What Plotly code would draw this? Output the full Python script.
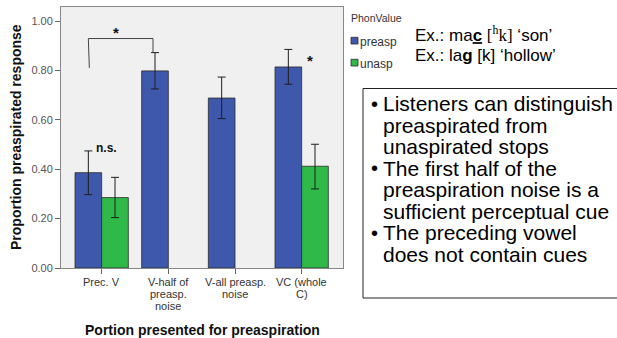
import plotly.graph_objects as go

# ---------------- data ----------------
categories = ["Prec. V", "V-half of<br>preasp.<br>noise", "V-all preasp.<br>noise", "VC (whole<br>C)"]
preasp_vals = [0.386, 0.798, 0.688, 0.814]
preasp_hi = [0.474, 0.872, 0.773, 0.885]
preasp_lo = [0.297, 0.725, 0.605, 0.744]
unasp_vals = [0.285, None, None, 0.412]
unasp_hi = [0.367, None, None, 0.501]
unasp_lo = [0.204, None, None, 0.320]
y_ticks = [0.0, 0.2, 0.4, 0.6, 0.8, 1.0]

bullets = [
    "• Listeners can distinguish",
    "preaspirated from",
    "unaspirated stops",
    "• The first half of the",
    "preaspiration noise is a",
    "sufficient perceptual cue",
    "• The preceding vowel",
    "does not contain cues",
]

# ---------------- geometry helpers (pixel -> paper) ----------------
W, H = 617, 338
L, R, T, B = 61, 274, 7, 70
PW, PH = W - L - R, H - T - B


def px_x(px):
    return (px - L) / PW


def px_y(py):
    return (H - B - py) / PH


BLUE = "#3e58ac"
GREEN = "#2eb948"
idx = list(range(len(categories)))


def err(vals, hi, lo):
    plus = [None if v is None else h - v for v, h in zip(vals, hi)]
    minus = [None if v is None else v - l for v, l in zip(vals, lo)]
    return plus, minus


pp, pm = err(preasp_vals, preasp_hi, preasp_lo)
up, um = err(unasp_vals, unasp_hi, unasp_lo)

fig = go.Figure()
fig.add_trace(go.Bar(
    x=idx, y=preasp_vals, name="preasp",
    marker=dict(color=BLUE, line=dict(color="#2b2b2b", width=0.8)),
    error_y=dict(type="data", symmetric=False, array=pp, arrayminus=pm,
                 color="#1e1e1e", thickness=1, width=4),
))
fig.add_trace(go.Bar(
    x=idx, y=unasp_vals, name="unasp",
    marker=dict(color=GREEN, line=dict(color="#2b2b2b", width=0.8)),
    error_y=dict(type="data", symmetric=False, array=up, arrayminus=um,
                 color="#1e1e1e", thickness=1, width=4),
))

ann = []
shapes = []
FONT = "Liberation Sans, Arial"

# x tick labels (multi-line, tight spacing)
for i, lab in enumerate(categories):
    for j, line in enumerate(lab.split("<br>")):
        ann.append(dict(x=i, xref="x", y=px_y(282.3 + 11.7 * j), yref="paper",
                        text=line, showarrow=False, xanchor="center", yanchor="middle",
                        font=dict(family=FONT, size=11, color="#333333")))

# axis titles
ann.append(dict(x=px_x(202), y=px_y(329.5), xref="paper", yref="paper",
                text="<b>Portion presented for preaspiration</b>", showarrow=False,
                xanchor="center", yanchor="middle",
                font=dict(family=FONT, size=14, color="#111111")))
ann.append(dict(x=px_x(15.5), y=px_y(137.5), xref="paper", yref="paper",
                text="<b>Proportion preaspirated response</b>", showarrow=False, textangle=-90,
                xanchor="center", yanchor="middle",
                font=dict(family=FONT, size=14, color="#111111")))

# significance marks
ann.append(dict(x=0.21, y=0.955, xref="x", yref="y", text="<b>*</b>", showarrow=False,
                xanchor="center", yanchor="middle",
                font=dict(family=FONT, size=15, color="#111111")))
ann.append(dict(x=3.12, y=0.84, xref="x", yref="y", text="<b>*</b>", showarrow=False,
                xanchor="center", yanchor="middle",
                font=dict(family=FONT, size=15, color="#111111")))
ann.append(dict(x=0.075, y=0.487, xref="x", yref="y", text="<b>n.s.</b>", showarrow=False,
                xanchor="center", yanchor="middle",
                font=dict(family=FONT, size=12, color="#111111")))

# bracket
bc = "#444444"
shapes.append(dict(type="line", xref="x", yref="y", x0=-0.2, x1=-0.185, y0=0.929, y1=0.81,
                   line=dict(color=bc, width=1)))
shapes.append(dict(type="line", xref="x", yref="y", x0=-0.2, x1=0.77, y0=0.929, y1=0.929,
                   line=dict(color=bc, width=1)))
shapes.append(dict(type="line", xref="x", yref="y", x0=0.77, x1=0.77, y0=0.929, y1=0.874,
                   line=dict(color=bc, width=1)))

# legend (manual)
ann.append(dict(x=px_x(349), y=px_y(18), xref="paper", yref="paper", text="PhonValue",
                showarrow=False, xanchor="left", yanchor="middle",
                font=dict(family=FONT, size=10.5, color="#333333")))
for name, col, ytop, ytxt in [("preasp", BLUE, 37.3, 42.0), ("unasp", GREEN, 59.3, 63.5)]:
    shapes.append(dict(type="rect", xref="paper", yref="paper",
                       x0=px_x(351), x1=px_x(358), y0=px_y(ytop), y1=px_y(ytop + 6.7),
                       fillcolor=col, line=dict(color="#2b2b2b", width=0.8)))
    ann.append(dict(x=px_x(358), y=px_y(ytxt), xref="paper", yref="paper", text=name,
                    showarrow=False, xanchor="left", yanchor="middle",
                    font=dict(family=FONT, size=12, color="#333333")))

# example words
ex_lines = [
    "Ex.: ma<b><u>c</u></b> <span style='font-family:Liberation Serif, Times New Roman'>[<sup>h</sup>k]</span> ‘son’",
    "Ex.: la<b><u>g</u></b> [k] ‘hollow’",
]
for j, t in enumerate(ex_lines):
    ann.append(dict(x=px_x(412.5), y=px_y(34 + 21.3 * j), xref="paper", yref="paper", text=t,
                    showarrow=False, xanchor="left", yanchor="middle",
                    font=dict(family=FONT, size=17, color="#000000")))

# bullet box
shapes.append(dict(type="rect", xref="paper", yref="paper",
                   x0=px_x(363), x1=px_x(625), y0=px_y(298), y1=px_y(88.5),
                   line=dict(color="#222222", width=1), fillcolor="rgba(0,0,0,0)"))
for j, t in enumerate(bullets):
    if t.startswith("•"):
        ann.append(dict(x=px_x(368.5), y=px_y(103.6 + 21.5 * j), xref="paper", yref="paper",
                        text="•", showarrow=False, xanchor="left", yanchor="middle",
                        font=dict(family=FONT, size=20, color="#000000")))
        t = t[1:].strip()
    ann.append(dict(x=px_x(380.5), y=px_y(103.6 + 21.5 * j), xref="paper", yref="paper",
                    text=t, showarrow=False, xanchor="left", yanchor="middle",
                    font=dict(family=FONT, size=21, color="#000000")))

fig.update_layout(
    width=W, height=H,
    margin=dict(l=L, r=R, t=T, b=B, pad=0),
    paper_bgcolor="white", plot_bgcolor="#f0f0f0",
    barmode="group", bargap=0.2, bargroupgap=0,
    showlegend=False,
    annotations=ann, shapes=shapes,
    font=dict(family=FONT),
)
fig.update_xaxes(
    range=[-0.61, 3.62], tickvals=idx, showticklabels=False,
    ticks="outside", ticklen=5, tickcolor="#666666",
    showline=True, linecolor="#888888", linewidth=1, mirror=True,
    showgrid=False, zeroline=False, fixedrange=True,
)
fig.update_yaxes(
    range=[0, (PH) / 247.0], tickvals=y_ticks, tickformat=".2f",
    ticks="outside", ticklen=5, tickcolor="#666666",
    tickfont=dict(family=FONT, size=11, color="#555555"),
    showline=True, linecolor="#888888", linewidth=1, mirror=True,
    showgrid=False, zeroline=False, fixedrange=True,
)

fig.write_html("out.html", config={"displayModeBar": False},
               post_script="document.body.style.margin='0px';document.body.style.overflow='hidden';")
